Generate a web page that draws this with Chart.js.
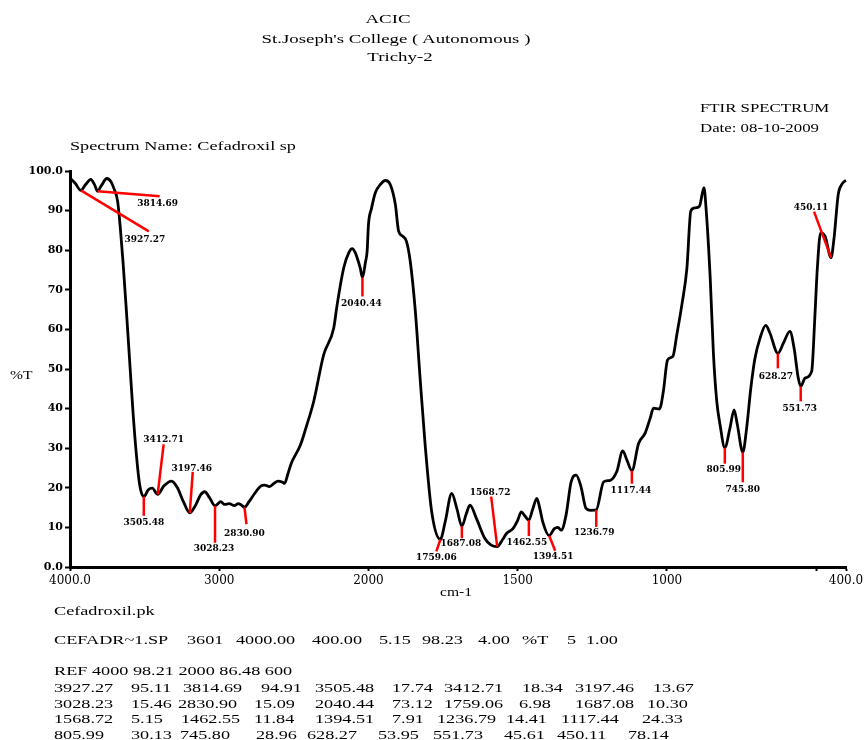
<!DOCTYPE html>
<html>
<head>
<meta charset="utf-8">
<title>FTIR Spectrum - Cefadroxil</title>
<script src="https://cdn.jsdelivr.net/npm/chart.js@4.4.1/dist/chart.umd.min.js"></script>
<style>
  html, body { margin: 0; padding: 0; background: #fff; }
  #page { position: relative; width: 864px; height: 740px; overflow: hidden; background: #fff; }
  #page canvas { position: absolute; left: 0; top: 0; }
  .t {
    position: absolute;
    font-family: "Liberation Serif", "Times New Roman", serif;
    font-size: 13px;
    line-height: 16px;
    color: #000;
    white-space: pre;
    transform-origin: 0 0;
    transform: scaleX(1.4);
  }
  .c { transform: scaleX(1.45) translateX(-50%); }
  .s12 { font-size: 12px; }
</style>
</head>
<body>
<div id="page">
  <canvas id="spectrum" width="864" height="740"></canvas>

  <div class="t c" style="left:388px; top:11px;">ACIC</div>
  <div class="t c" style="left:396px; top:31px;">St.Joseph's College ( Autonomous )</div>
  <div class="t c" style="left:400px; top:49px;">Trichy-2</div>

  <div class="t s12" style="left:700px; top:100px;">FTIR SPECTRUM</div>
  <div class="t s12" style="left:700px; top:120px;">Date: 08-10-2009</div>
  <div class="t" style="left:70px; top:138px;">Spectrum Name: Cefadroxil sp</div>

  <div class="t" style="left:10px; top:367px; transform:scaleX(1.2);">%T</div>
  <div class="t" style="left:456px; top:584px; transform:scaleX(1.2) translateX(-50%);">cm-1</div>

  <div class="t" style="left:54px; top:603px;">Cefadroxil.pk</div>
  <div id="footer"></div>
</div>

<script>
// ---- spectrum trace (wavenumber in cm-1, transmittance in %T) ----
const TRACE_WN = [
  4000, 3965, 3895, 3861, 3835, 3790, 3753, 3725, 3708, 3681, 3663, 3645, 3622, 3600,
  3578, 3555, 3533, 3475, 3449, 3370, 3319, 3280, 3240, 3160, 3125, 3097, 3065,
  2989, 2965, 2933, 2899, 2872, 2850, 2800, 2764, 2720, 2697, 2663, 2630, 2607, 2575,
  2562, 2540, 2517, 2456, 2420, 2367, 2300, 2233, 2210, 2166, 2130, 2109, 2090, 2076,
  2055, 2020, 2009, 2000, 1990, 1977, 1960, 1943, 1927, 1910, 1899, 1885, 1873, 1860,
  1843, 1827, 1810, 1788, 1743, 1721, 1704, 1672, 1660, 1638, 1610, 1590, 1550, 1538,
  1516, 1500, 1488, 1475, 1450, 1436, 1425, 1416, 1377, 1365, 1354, 1338, 1321, 1304,
  1288, 1271, 1255, 1212, 1190, 1168, 1148, 1134, 1095, 1073, 1056, 1045, 1025, 1012,
  998, 980, 967, 950, 933, 920, 906, 891, 876, 869, 855, 844, 833, 822, 789, 775, 764,
  733, 719, 705, 688, 669, 655, 610, 588, 574, 560, 537, 515, 504, 496, 485, 470, 440,
  426, 414, 403, 400
];
const TRACE_T = [
  98.2, 96.9, 96.6, 97.9, 96.5, 96.3, 98.1, 97.3, 95.8, 92.4, 85.7, 77.2, 64.6, 51.9,
  39.2, 28.3, 20.7, 19.5, 19.9, 20.5, 21.7, 20.0, 16.5, 15.5, 18.2, 19.0, 17.5,
  16.5, 15.8, 16.0, 15.5, 16.0, 15.6, 16.5, 18.5, 20.5, 20.7, 20.3, 21.2, 21.7, 21.4,
  21.1, 23.5, 26.2, 30.8, 35.0, 41.8, 53.6, 60.3, 66.2, 75.5, 79.5, 80.4, 79.5, 78.1,
  75.5, 77.0, 79.7, 86.48, 90.5, 94.5, 96.6, 97.6, 96.6, 91.6, 84.8, 83.5, 82.3, 77.2,
  64.6, 47.7, 30.8, 13.9, 11.4, 18.6, 14.8, 13.5, 15.6, 12.2, 7.2, 5.6, 7.0, 8.4,
  9.7, 11.8, 13.9, 12.8, 14.5, 17.3, 14.5, 11.4, 9.7, 10.0, 9.3, 13.1, 21.5, 23.2,
  20.3, 14.8, 14.3, 21.5, 21.9, 24.1, 29.3, 27.0, 31.2, 33.8, 37.6, 40.1, 39.9, 44.3,
  52.3, 53.2, 58.6, 66.2, 75.5, 89.9, 90.7, 91.1, 95.8, 90.7, 73.0, 53.6, 41.8, 35.9, 35.0, 39.7, 35.9,
  35.0, 45.1, 52.7, 57.8, 61.0, 59.1, 56.5, 59.5, 55.3, 47.7, 47.7, 49.4, 63.7, 75.5, 84.4, 83.5, 83.1,
  94.1, 96.6, 97.5, 97.6
];

// ---- picked peaks ----
const PEAK_WN = [
  3927.27, 3814.69, 3505.48, 3412.71, 3197.46,
  3028.23, 2830.90, 2040.44, 1759.06, 1687.08,
  1568.72, 1462.55, 1394.51, 1236.79, 1117.44,
  805.99, 745.80, 628.27, 551.73, 450.11
];
const PEAK_T = [
  95.11, 94.91, 17.74, 18.34, 13.67,
  15.46, 15.09, 73.12, 6.98, 10.30,
  5.15, 11.84, 7.91, 14.41, 24.33,
  30.13, 28.96, 53.95, 45.61, 78.14
];

// ---- axis ticks ----
const X_TICKS = [4000, 3000, 2000, 1500, 1000, 500, 400];
const X_TICK_LABELS = ['4000.0', '3000', '2000', '1500', '1000', '', '400.0'];
const Y_TICKS = [0, 10, 20, 30, 40, 50, 60, 70, 80, 90, 100];
const Y_TICK_LABELS = ['0.0', '10', '20', '30', '40', '50', '60', '70', '80', '90', '100.0'];

// ---- file header lines ----
const FILE_INFO = ['CEFADR~1.SP', '3601', '4000.00', '400.00', '5.15', '98.23', '4.00', '%T', '5', '1.00'];
const REF_LINE = 'REF 4000 98.21 2000 86.48 600';

// ---- placement of the peak markers: [line dx, line dy, label dx, label dy] in px ----
const PEAK_MARK_OFFSETS = [
  [68, 41, 64, 49], [62, 5, 60, 12], [0, 19, 0, 26], [6, -50, 6, -55], [3, -41, 2, -44],
  [0, 37, -1, 43], [2, 17, 0, 26], [0, 19, -1, 26], [-4, 12, -4, 18], [0, 12, -1, 17],
  [-6, -50, -7, -54], [0, 16, -2, 23], [6, 15, 4, 21], [0, 17, -2, 23], [0, 13, -1, 20],
  [0, 16, -1, 22], [0, 30, 0, 37], [0, 15, -2, 23], [0, 15, -1, 22], [-17, -46, -20, -50]
];

// Wavenumber axis: 4000-2000 at half the scale of 2000-400 (standard FTIR break at 2000)
function wavenumberFraction(w) {
  const span = 2000 + 2 * 1600;
  return w >= 2000 ? (4000 - w) / span : (2000 + (2000 - w) * 2) / span;
}
function fractionToWavenumber(d) {
  const span = 2000 + 2 * 1600;
  const u = d * span;
  return u <= 2000 ? 4000 - u : 2000 - (u - 2000) / 2;
}

class WavenumberScale extends Chart.LinearScale {
  static id = 'wavenumber';
  getPixelForValue(value) {
    if (value === null || value === undefined || isNaN(value)) return NaN;
    return this.getPixelForDecimal(wavenumberFraction(value));
  }
  getValueForPixel(pixel) {
    return fractionToWavenumber(this.getDecimalForPixel(pixel));
  }
}
Chart.register(WavenumberScale);

// merge the trace with the picked peaks so every labelled peak lies on the curve
const points = TRACE_WN.map((w, i) => ({ x: w, y: TRACE_T[i] }))
  .concat(PEAK_WN.map((w, i) => ({ x: w, y: PEAK_T[i] })))
  .sort((a, b) => b.x - a.x);

const peakMarks = {
  id: 'peakMarks',
  afterDatasetsDraw(chart) {
    const { ctx, scales: { x, y } } = chart;
    ctx.save();
    PEAK_WN.forEach((w, i) => {
      const px = x.getPixelForValue(w);
      const py = y.getPixelForValue(PEAK_T[i]);
      const [dx, dy, lx, ly] = PEAK_MARK_OFFSETS[i];
      ctx.strokeStyle = '#ff0000';
      ctx.lineWidth = 2.5;
      ctx.lineCap = 'butt';
      ctx.beginPath();
      ctx.moveTo(px, py);
      ctx.lineTo(px + dx, py + dy);
      ctx.stroke();
      ctx.fillStyle = '#000';
      ctx.font = 'bold 9px "DejaVu Serif"';
      ctx.textAlign = 'center';
      ctx.textBaseline = 'middle';
      ctx.fillText(w.toFixed(2), px + lx, py + ly);
    });
    ctx.restore();
  }
};

new Chart(document.getElementById('spectrum'), {
  type: 'line',
  data: {
    datasets: [{
      label: 'Cefadroxil sp',
      data: points,
      borderColor: '#000',
      borderWidth: 2.8,
      pointRadius: 0,
      cubicInterpolationMode: 'monotone',
      fill: false,
      clip: false
    }]
  },
  options: {
    responsive: false,
    animation: false,
    devicePixelRatio: 1,
    layout: { padding: { left: 10, right: 18, top: 171, bottom: 145 } },
    plugins: { legend: { display: false }, tooltip: { enabled: false }, title: { display: false } },
    scales: {
      x: {
        type: 'wavenumber',
        min: 400,
        max: 4000,
        afterBuildTicks: s => { s.ticks = X_TICKS.map(v => ({ value: v })); },
        afterFit: s => { s.height = 28; s.paddingLeft = 0; s.paddingRight = 0; },
        grid: { drawOnChartArea: false, drawTicks: true, tickLength: 4, tickWidth: 2, tickColor: '#000' },
        border: { display: true, color: '#000', width: 3 },
        ticks: {
          autoSkip: false, maxRotation: 0, padding: 3, color: '#000',
          font: { family: 'DejaVu Serif', size: 12 },
          callback: v => X_TICK_LABELS[X_TICKS.indexOf(v)]
        }
      },
      y: {
        min: 0,
        max: 100,
        afterBuildTicks: s => { s.ticks = Y_TICKS.map(v => ({ value: v })); },
        afterFit: s => { s.width = 60; },
        grid: { drawOnChartArea: false, drawTicks: true, tickLength: 5, tickWidth: 2, tickColor: '#000' },
        border: { display: true, color: '#000', width: 3 },
        ticks: {
          padding: 2, color: '#000',
          font: { family: 'DejaVu Serif', size: 11, weight: 'bold' },
          callback: v => Y_TICK_LABELS[Y_TICKS.indexOf(v)]
        }
      }
    }
  },
  plugins: [peakMarks]
});

// ---- peak table under the chart ----
const FILE_INFO_X = [54, 187, 236, 312, 379, 422, 478, 522, 567, 586];
const TABLE_COL_X = [
  [54, 130.5, 183, 261, 315, 392, 444, 522, 575, 653],
  [54, 130.5, 178, 254, 315, 392, 444, 519, 575, 647],
  [54, 130.5, 180.5, 254, 315, 392, 437, 505.5, 561, 642],
  [54, 130.5, 179.5, 255.5, 307, 378, 433, 504, 557, 628]
];
const TABLE_ROW_Y = [688, 703.5, 719, 734.5];

const footer = document.getElementById('footer');
function addText(str, left, centerY) {
  const d = document.createElement('div');
  d.className = 't';
  d.textContent = str;
  d.style.left = left + 'px';
  d.style.top = (centerY - 8) + 'px';
  footer.appendChild(d);
}
FILE_INFO.forEach((s, i) => addText(s, FILE_INFO_X[i], 640));
addText(REF_LINE, 54, 671);
TABLE_ROW_Y.forEach((yc, r) => {
  for (let k = 0; k < 5; k++) {
    const i = r * 5 + k;
    addText(PEAK_WN[i].toFixed(2), TABLE_COL_X[r][2 * k], yc);
    addText(PEAK_T[i].toFixed(2), TABLE_COL_X[r][2 * k + 1], yc);
  }
});
</script>
</body>
</html>
